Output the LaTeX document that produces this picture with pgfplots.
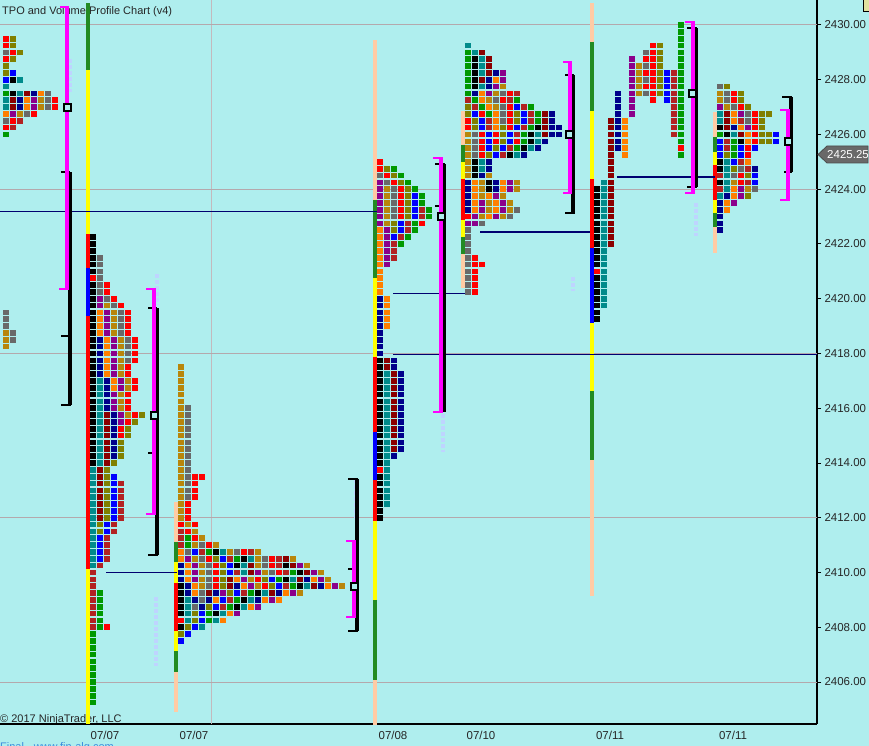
\documentclass[border=0pt]{standalone}
\usepackage{fontspec}
\setmainfont{Liberation Sans}
\usepackage{pgfplots}
\pgfplotsset{compat=1.18}

\definecolor{bg}{HTML}{AFEEEE}
\definecolor{tk}{HTML}{000000}
\definecolor{tg}{HTML}{696969}
\definecolor{tr}{HTML}{FF0000}
\definecolor{tp}{HTML}{8B008B}
\definecolor{td}{HTML}{B8860B}
\definecolor{to}{HTML}{FF7F00}
\definecolor{tn}{HTML}{00008B}
\definecolor{tt}{HTML}{008B8B}
\definecolor{tm}{HTML}{8B0000}
\definecolor{tl}{HTML}{808000}
\definecolor{tb}{HTML}{0000FF}
\definecolor{tf}{HTML}{B22222}
\definecolor{te}{HTML}{009900}
\definecolor{mag}{HTML}{FF00FF}
\definecolor{sgreen}{HTML}{228B22}
\definecolor{speach}{HTML}{FFCBA4}
\definecolor{syellow}{HTML}{FFFF00}
\definecolor{gridc}{HTML}{B4A8AC}
\definecolor{vlight}{HTML}{BED4FF}
\definecolor{pocline}{HTML}{000070}
\definecolor{finblue}{HTML}{3C8CDC}

% one TPO square per letter: k black, g gray, r red, p purple, d goldenrod,
% o orange, n navy, t teal, m maroon, l olive, b blue, f firebrick, e green, . empty
\pgfplotsset{tposq/.style={scatter, only marks, mark=square*, mark size=3pt,
  mark options={draw opacity=0, yscale=0.94},
  scatter src=explicit symbolic,
  scatter/classes={k={tk},g={tg},r={tr},p={tp},d={td},o={to},n={tn},
    t={tt},m={tm},l={tl},b={tb},f={tf},e={te}}}}

\makeatletter
\def\tpo@emit{%
  \edef\tpo@cmd{\noexpand\addplot[tposq] coordinates {\tpo@list};}%
  \tpo@cmd}
% a row: first column centre, price, letters (left to right)
\newcommand\tporow[3]{%
  \def\tpo@list{}\def\tpo@y{#2}\pgfmathsetmacro\tpo@x{#1}%
  \tpo@rowloop#3\relax\tpo@emit}
\def\tpo@rowloop#1{%
  \ifx\relax#1\else
    \if.#1\else\edef\tpo@list{\tpo@list\space(\tpo@x,\tpo@y)[#1]}\fi
    \pgfmathsetmacro\tpo@x{\tpo@x+7}%
    \expandafter\tpo@rowloop
  \fi}
% a column: x centre, top price, letters (top to bottom, 0.25 apart)
\newcommand\tpocol[3]{%
  \def\tpo@list{}\def\tpo@x{#1}\pgfmathsetmacro\tpo@y{#2}%
  \tpo@colloop#3\relax\tpo@emit}
\def\tpo@colloop#1{%
  \ifx\relax#1\else
    \if.#1\else\edef\tpo@list{\tpo@list\space(\tpo@x,\tpo@y)[#1]}\fi
    \pgfmathsetmacro\tpo@y{\tpo@y-0.25}%
    \expandafter\tpo@colloop
  \fi}
\makeatother

\newcommand\sbar[4]{\addplot[#4, line width=4pt] coordinates {(#1,#2) (#1,#3)};}
\newcommand\hl[4]{\addplot[#4] coordinates {(#1,#3) (#2,#3)};}

\begin{document}
\begin{tikzpicture}[x=1pt,y=1pt]
\fill[bg] (-5,-30) rectangle (875,730);
\node[anchor=base west, inner sep=0, font=\fontsize{11}{13}\selectfont, text=black!85]
  at (2,709.5) {TPO and Volume Profile Chart (v4)};
\node[anchor=base west, inner sep=0, font=\fontsize{11}{13}\selectfont, text=black!85]
  at (0,2) {© 2017 NinjaTrader, LLC};
\begin{axis}[
  at={(0,0)}, anchor=south west,
  width=817pt, height=724pt, scale only axis,
  xmin=0, xmax=817, ymin=2404.4658, ymax=2430.9132,
  axis x line*=bottom, axis y line*=right,
  axis line style={black, line width=1.3pt, -},
  xtick={105,194,393,481,610,733},
  xticklabels={07/07,07/07,07/08,07/10,07/11,07/11},
  x tick style={draw=none},
  ytick={2406,2408,...,2430},
  y tick style={black, line width=1pt},
  tick align=outside, major tick length=4pt,
  scaled y ticks=false,
  tick label style={font=\fontsize{11.5}{13}\selectfont, text=black!85},
  y tick label style={/pgf/number format/fixed, /pgf/number format/fixed zerofill,
    /pgf/number format/precision=2, /pgf/number format/1000 sep={},
    /pgf/number format/assume math mode=true},
  extra y ticks={2406,2412,2418,2424,2430}, extra y tick labels={},
  extra y tick style={grid=major, major grid style={gridc, line width=1pt}},
  extra x ticks={211}, extra x tick labels={},
  extra x tick style={grid=major, major grid style={gridc!80, line width=1pt}},
]

% ---- session range bars
\sbar{88}{2430.80}{2428.36}{sgreen}
\sbar{88}{2428.36}{2422.37}{syellow}
\sbar{88}{2422.37}{2421.12}{tr}
\sbar{88}{2421.12}{2419.37}{tb}
\sbar{88}{2419.37}{2410.13}{tr}
\sbar{88}{2410.13}{2404.45}{syellow}

\sbar{176}{2412.57}{2411.11}{speach}
\sbar{176}{2411.11}{2410.38}{sgreen}
\sbar{176}{2410.38}{2409.62}{syellow}
\sbar{176}{2409.62}{2407.86}{tr}
\sbar{176}{2407.86}{2407.13}{syellow}
\sbar{176}{2407.13}{2406.37}{sgreen}
\sbar{176}{2406.37}{2404.90}{speach}

\sbar{375}{2429.45}{2423.61}{speach}
\sbar{375}{2423.61}{2420.76}{sgreen}
\sbar{375}{2420.76}{2417.87}{syellow}
\sbar{375}{2417.87}{2415.13}{tr}
\sbar{375}{2415.13}{2413.38}{tb}
\sbar{375}{2413.38}{2411.88}{tr}
\sbar{375}{2411.88}{2409.00}{syellow}
\sbar{375}{2409.00}{2406.07}{sgreen}
\sbar{375}{2406.07}{2404.40}{speach}

\sbar{463}{2426.86}{2425.62}{speach}
\sbar{463}{2425.62}{2425.00}{sgreen}
\sbar{463}{2425.00}{2424.37}{syellow}
\sbar{463}{2424.37}{2422.88}{tr}
\sbar{463}{2422.88}{2422.26}{syellow}
\sbar{463}{2422.26}{2421.64}{sgreen}
\sbar{463}{2421.64}{2420.39}{speach}

\sbar{592}{2430.80}{2429.38}{speach}
\sbar{592}{2429.38}{2426.86}{sgreen}
\sbar{592}{2426.86}{2424.37}{syellow}
\sbar{592}{2424.37}{2421.85}{tr}
\sbar{592}{2421.85}{2419.11}{tb}
\sbar{592}{2419.11}{2416.63}{syellow}
\sbar{592}{2416.63}{2414.11}{sgreen}
\sbar{592}{2414.11}{2409.14}{speach}

\sbar{715}{2426.82}{2425.91}{speach}
\sbar{715}{2425.91}{2425.36}{sgreen}
\sbar{715}{2425.36}{2424.89}{syellow}
\sbar{715}{2424.89}{2423.61}{tr}
\sbar{715}{2423.61}{2423.13}{syellow}
\sbar{715}{2423.13}{2422.62}{sgreen}
\sbar{715}{2422.62}{2421.67}{speach}

% ---- left partial profile
\tporow{-1}{2429.5}{grl}
\tporow{-1}{2429.25}{grl}
\tporow{-1}{2429.0}{pgrl}
\tporow{-1}{2428.75}{grl}
\tporow{-1}{2428.5}{gl}
\tporow{-1}{2428.25}{glb}
\tporow{-1}{2428.0}{lbkt}
\tporow{-1}{2427.75}{kt}
\tporow{-1}{2427.5}{fektmnog}
\tporow{-1}{2427.25}{ktmnopdgr}
\tporow{-1}{2427.0}{ktmnopdgr}
\tporow{-1}{2426.75}{fopdgr}
\tporow{-1}{2426.5}{dgrf}
\tporow{-1}{2426.25}{grf}
\tporow{-1}{2426.0}{fe}
\tporow{-1}{2425.25}{e}
\tpocol{-1}{2420.75}{rrrr g ddd ppp dd}
\tpocol{6}{2419.5}{ggg ddd}
\tpocol{13}{2418.75}{gg}

% ---- profile 1 (07/07)
\tpocol{93}{2422.25}{kkkkkk r kkkkkkkkkk kkkkkkkkkk kkkkkkk ttttttttttttttt fffffffff eeeeeeeeeee}
\tpocol{100}{2421.5}{gggggg pp oooo nnnnnn tttttttttt ttt mmmmmmmm ll bbbb f ... eeeeee}
\tpocol{107}{2420.5}{rr g d pppp oooooo nnnnn mmmmmmmm llllllll bb ffff ......... r}
\tpocol{114}{2420.0}{r g dddd pppppp oo ppp nnnnnnn l . bbbbbbb ff}
\tpocol{121}{2419.75}{r gggg dddddd pp ddd pp rr lll ... ffffff}
\tpocol{128}{2419.5}{rrrr gggg rr dd rrr d r ll}
\tpocol{135}{2418.5}{rrrr .. rr ... r l}
\tpocol{142}{2415.75}{l}

% ---- profile 2 (07/07)
\tpocol{181}{2417.5}{dddddddddd dddddddddd ddd r ff}
\tpocol{188}{2416.0}{gggggggggggggg rrr d r e}
\tpocol{195}{2413.5}{rrrr ... r d r}
\tpocol{202}{2413.5}{r ........ d}
\tporow{181}{2411.0}{fedgrd}
\tporow{181}{2410.75}{ogbfektdgrfd}
\tporow{181}{2410.5}{opdgrlbfektdgrfmd}
\tporow{181}{2410.25}{nopdgrlbktmdgrfkmpd}
\tporow{181}{2410.0}{nopdgrlbftmpdgrfekmpd}
\tporow{181}{2409.75}{nopdgrlmopdrlbektmnopd}
\tporow{181}{2409.5}{knodgrlmnopdrlbfektmnopd}
\tporow{181}{2409.25}{knogmnplbfektmnopd}
\tporow{181}{2409.0}{ktngnobfektnopo}
\tporow{181}{2408.75}{ktgnlbfektop}
\tporow{181}{2408.5}{ktlbektop}
\tporow{181}{2408.25}{rtlbeto}
\tporow{181}{2408.0}{klbt}
\tporow{181}{2407.75}{lb}
\tporow{181}{2407.5}{b}

% ---- profile 3 (07/08)
\tpocol{380}{2425.0}{rr g ppppppp oooooooooo nnnnnnnnn kkkkkkkkkk kkkkkk r kkkkkkk}
\tpocol{387}{2424.75}{l r g dddddd pppppp .... ooooo .... mm tttttttttt tttttttttt}
\tpocol{394}{2424.75}{e l r ggggg ll b fff .......... .... nn mmmmmmmmmm mm n}
\tpocol{401}{2424.5}{e l rrrrr bb f e .......... ........ nnnnnnnnnn nn}
\tpocol{408}{2424.25}{e lllll ff e}
\tpocol{415}{2424.0}{e bbbb ee}
\tpocol{422}{2423.75}{ee ff r}
\tpocol{429}{2423.25}{ee}

% ---- profile 4 (07/10)
\tporow{468}{2429.25}{t}
\tporow{468}{2429.0}{etm}
\tporow{468}{2428.75}{ektm}
\tporow{468}{2428.5}{ektm}
\tporow{468}{2428.25}{ektmnp}
\tporow{468}{2428.0}{ekmnop}
\tporow{468}{2427.75}{ektnpd}
\tporow{468}{2427.5}{enopdgrf}
\tporow{468}{2427.25}{feodgrfe}
\tporow{468}{2427.0}{lfeodgrbfe}
\tporow{468}{2426.75}{lbreogrlbfemn}
\tporow{468}{2426.5}{rlbfogrlbfemn}
\tporow{468}{2426.25}{rlbfolrbfekmnn}
\tporow{468}{2426.0}{dgrbrlbfektmnn}
\tporow{468}{2425.75}{dgrbrlbrektn}
\tporow{468}{2425.5}{dgrblbfektn}
\tporow{468}{2425.25}{dgrlbfktn}
\tporow{468}{2425.0}{dktn}
\tporow{468}{2424.75}{dktn}
\tporow{468}{2424.5}{dknd}
\tporow{468}{2424.25}{nodknopd}
\tporow{468}{2424.0}{nodknopd}
\tporow{468}{2423.75}{nodopd}
\tporow{468}{2423.5}{nopdopd}
\tporow{468}{2423.25}{nopdopdg}
\tporow{468}{2423.0}{rpdopdg}
\tporow{468}{2422.75}{ppg}
\tpocol{468}{2422.5}{gggggggggg}
\tpocol{475}{2421.5}{rrrrrr}
\tporow{482}{2421.25}{r}

% ---- profile 5 (07/11)
\tpocol{597}{2424.0}{kkkkkkkkkkkk r kkkkkkk}
\tpocol{604}{2424.25}{tttttttttt ttttttttt}
\tpocol{611}{2426.5}{mmmmmmmmmm mmmmmmmmm}
\tpocol{618}{2427.5}{nnnnnnnnn}
\tpocol{625}{2426.5}{oooooo}
\tpocol{632}{2428.75}{ppppppppp}
\tpocol{639}{2428.5}{ddddd}
\tpocol{646}{2429.0}{grgrgrg}
\tpocol{653}{2429.25}{rrrrrrrrr}
\tpocol{660}{2429.25}{llllllll}
\tpocol{667}{2428.25}{bbbbb}
\tpocol{674}{2428.25}{ffffffffff}
\tpocol{681}{2430.0}{eeeeeeeeee eeeeeeee r e}

% ---- profile 6 (07/11)
\tporow{720}{2427.75}{gl}
\tporow{720}{2427.5}{dgrl}
\tporow{720}{2427.25}{dgrl}
\tporow{720}{2427.0}{pdgrl}
\tporow{720}{2426.75}{tmopgrll}
\tporow{720}{2426.5}{tmofgrl}
\tporow{720}{2426.25}{kmnoprl}
\tporow{720}{2426.0}{ektmorllb}
\tporow{720}{2425.75}{bfekorllb}
\tporow{720}{2425.5}{bfebrb}
\tporow{720}{2425.25}{blebr}
\tporow{720}{2425.0}{ktbfo}
\tporow{720}{2424.75}{ktlgfn}
\tporow{720}{2424.5}{ftgrlb}
\tporow{720}{2424.25}{ktdrfb}
\tporow{720}{2424.0}{ftopdg}
\tporow{720}{2423.75}{tnopl}
\tporow{720}{2423.5}{nop}
\tporow{720}{2423.25}{no}
\tpocol{720}{2423.0}{nnn}

% ---- naked POC lines
\hl{0}{380}{2423.2}{pocline, line width=1.2pt}
\hl{393}{466}{2420.2}{pocline, line width=1.2pt}
\hl{393}{817}{2417.95}{pocline, line width=1.2pt}
\hl{480}{590}{2422.44}{pocline, line width=1.2pt}
\hl{617}{715}{2424.45}{pocline, line width=1.2pt}
\hl{106}{177}{2410.0}{pocline, line width=1.2pt}

% ---- faint dashed volume hints
\sbar{70}{2428.76}{2427.55}{vlight, line width=1pt, dash pattern=on 4pt off 2pt}
\sbar{157}{2420.9}{2419.8}{vlight, line width=1pt, dash pattern=on 4pt off 2pt}
\sbar{156}{2409.1}{2406.6}{vlight, line width=1pt, dash pattern=on 4pt off 2pt}
\sbar{356}{2413.4}{2412.0}{vlight, line width=1pt, dash pattern=on 4pt off 2pt}
\sbar{443}{2415.8}{2414.4}{vlight, line width=1pt, dash pattern=on 4pt off 2pt}
\sbar{573}{2420.8}{2420.3}{vlight, line width=1pt, dash pattern=on 4pt off 2pt}
\sbar{696}{2423.5}{2422.3}{vlight, line width=1pt, dash pattern=on 4pt off 2pt}

% ---- value area (black) and initial balance (magenta) brackets
\sbar{69.5}{2424.63}{2416.12}{tk}
\hl{61}{70}{2424.63}{tk, line width=2pt}
\hl{61}{70}{2418.64}{tk, line width=2pt}
\hl{61}{71}{2416.12}{tk, line width=2pt}
\sbar{67}{2430.66}{2420.36}{mag}
\hl{60}{69}{2430.66}{mag, line width=2.5pt}
\hl{59}{69}{2420.36}{mag, line width=2.5pt}

\sbar{156.5}{2419.66}{2410.64}{tk}
\hl{148}{157}{2419.66}{tk, line width=2pt}
\hl{148}{157}{2414.37}{tk, line width=2pt}
\hl{148}{158}{2410.64}{tk, line width=2pt}
\sbar{154}{2420.36}{2412.14}{mag}
\hl{146}{156}{2420.36}{mag, line width=2.5pt}
\hl{146}{156}{2412.14}{mag, line width=2.5pt}

\sbar{356.5}{2413.42}{2407.86}{tk}
\hl{348}{358}{2413.42}{tk, line width=2pt}
\hl{348}{357}{2410.13}{tk, line width=2pt}
\hl{348}{358}{2407.86}{tk, line width=2pt}
\sbar{354}{2411.15}{2408.37}{mag}
\hl{346}{356}{2411.15}{mag, line width=2.5pt}
\hl{346}{356}{2408.37}{mag, line width=2.5pt}

\sbar{444}{2424.92}{2415.86}{tk}
\hl{435}{445}{2424.92}{tk, line width=2pt}
\hl{435}{444}{2423.39}{tk, line width=2pt}
\sbar{441}{2425.14}{2415.86}{mag}
\hl{433}{443}{2425.14}{mag, line width=2.5pt}
\hl{433}{443}{2415.86}{mag, line width=2.5pt}

\sbar{573}{2428.17}{2423.13}{tk}
\hl{565}{574}{2428.17}{tk, line width=2pt}
\hl{565}{575}{2423.13}{tk, line width=2pt}
\sbar{570}{2428.65}{2423.86}{mag}
\hl{563}{572}{2428.65}{mag, line width=2.5pt}
\hl{563}{572}{2423.86}{mag, line width=2.5pt}

\sbar{696}{2429.89}{2424.08}{tk}
\hl{687}{697}{2429.89}{tk, line width=2pt}
\hl{687}{697}{2424.08}{tk, line width=2pt}
\sbar{693}{2430.11}{2423.86}{mag}
\hl{685}{695}{2430.11}{mag, line width=2.5pt}
\hl{685}{695}{2423.86}{mag, line width=2.5pt}

\sbar{790.5}{2427.37}{2424.63}{tk}
\hl{782}{792}{2427.37}{tk, line width=2pt}
\hl{784}{792}{2424.63}{tk, line width=2pt}
\sbar{788}{2426.89}{2423.61}{mag}
\hl{780}{790}{2426.89}{mag, line width=2.5pt}
\hl{780}{790}{2423.61}{mag, line width=2.5pt}

% ---- POC markers
\addplot[only marks, mark=square*, mark size=3.5pt,
  mark options={draw=black, fill=bg, line width=2pt}]
  coordinates {(67,2427.0) (154,2415.75) (354,2409.5) (441,2423.0)
               (569,2426.0) (692.5,2427.5) (788,2425.75)};
\end{axis}

\node[anchor=base west, inner sep=0, font=\fontsize{11}{13}\selectfont, text=finblue]
  at (0,-26) {Final - www.fin-alg.com};
\filldraw[fill=tg, draw=black!70, line width=0.8pt]
  (818,569.5) -- (827,578) -- (868,578) -- (868,561) -- (827,561) -- cycle;
\node[font=\fontsize{11.5}{13}\selectfont, text=white, inner sep=0] at (848,569.5) {2425.25};
\filldraw[fill={rgb,255:red,225;green,225;blue,160}, draw=black, line width=0.8pt]
  (863,713) rectangle (874,728);

\pgfresetboundingbox
\path[use as bounding box] (0,-21) rectangle (869,724);
\end{tikzpicture}
\end{document}
